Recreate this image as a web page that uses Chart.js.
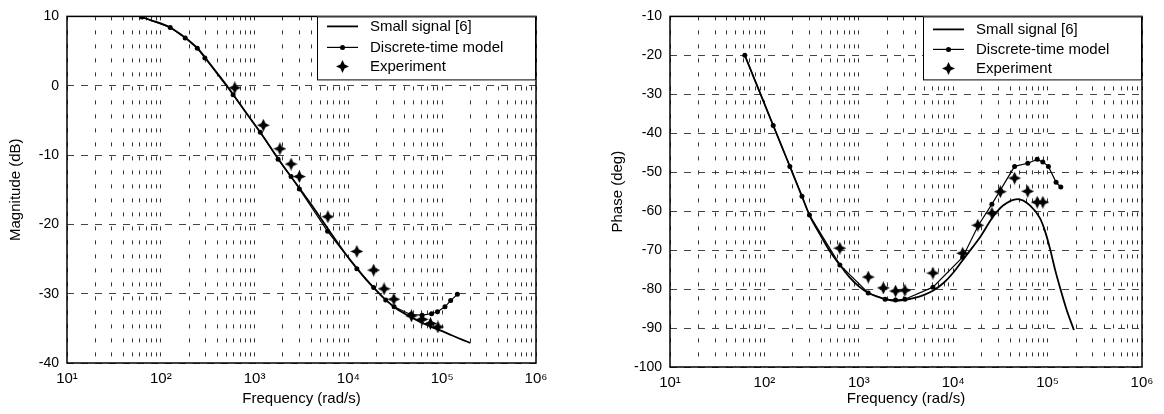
<!DOCTYPE html>
<html lang="en">
<head>
<meta charset="UTF-8">
<title>Bode plot</title>
<script src="https://cdn.jsdelivr.net/npm/chart.js/dist/chart.umd.min.js"></script>
<style>
  body { margin: 0; background: #fff; }
  .panel { position: absolute; top: 0; }
  #left { left: 0; }
  #right { left: 580px; }
</style>
</head>
<body>
<div class="panel" id="left"><canvas id="magChart" width="580" height="414"></canvas></div>
<div class="panel" id="right"><canvas id="phaseChart" width="584" height="414"></canvas></div>
<script>
// ---- magnitude (dB) ----
const ssMagFreq = [63, 80, 100, 126, 160, 200, 250, 320, 400, 500, 630, 800, 1000, 1260, 1600, 2000, 2500, 3200, 4000, 5000, 6300, 8000, 10000, 12600, 16000, 20000, 25000, 32000, 40000, 50000, 63000, 80000, 100000, 126000, 160000, 200000];
const ssMag = [9.9, 9.4, 9.0, 8.4, 7.5, 6.5, 5.3, 3.5, 1.8, 0.1, -1.8, -3.8, -5.6, -7.5, -9.6, -11.5, -13.3, -15.3, -17.1, -19.0, -21.0, -23.0, -24.8, -26.5, -28.2, -29.6, -30.9, -32.1, -32.9, -33.6, -34.3, -34.9, -35.4, -36.0, -36.6, -37.1];

const modelMagFreq = [63, 126, 182, 245, 295, 590, 1150, 1780, 2450, 3000, 6000, 12300, 18600, 25000, 30700, 46000, 61000, 77000, 89000, 107000, 123000, 145000];
const modelMag = [9.9, 8.4, 6.9, 5.4, 4.0, -1.3, -6.7, -10.6, -13.1, -14.9, -21.0, -26.4, -29.1, -30.9, -31.9, -33.0, -33.1, -32.9, -32.6, -31.9, -31.0, -30.1];

const expMagFreq = [615, 1240, 1860, 2450, 3000, 6050, 12300, 18600, 24000, 30500, 47000, 61000, 75000, 90000];
const expMag = [-0.3, -5.7, -9.1, -11.3, -13.1, -18.9, -23.9, -26.6, -29.3, -30.8, -33.2, -33.7, -34.3, -34.8];

// ---- phase (deg) ----
const ssPhFreq = [62, 80, 100, 124, 150, 186, 250, 300, 400, 500, 630, 800, 1000, 1260, 1600, 2000, 2500, 3000, 4000, 5000, 6100, 8000, 10000, 12600, 16000, 19000, 26300, 34000, 48000, 65000, 83000, 95000, 107000, 120000, 135000, 160000, 190000];
const ssPh = [-20, -26.6, -32.4, -38, -42.9, -48.5, -56.2, -61, -66.5, -70.5, -73.8, -77, -79.3, -81.0, -82.0, -82.7, -83.0, -82.8, -82.2, -81.4, -80.4, -78.3, -75.8, -72.6, -69.3, -66.9, -61.5, -58.5, -56.9, -58.5, -61.8, -65.5, -70, -75, -79.5, -85.5, -90.5];

const modelPhFreq = [62, 124, 186, 250, 300, 630, 1260, 1900, 2450, 3080, 6100, 12600, 18500, 25700, 31600, 44700, 61600, 77600, 89000, 102000, 123000, 138000];
const modelPh = [-20, -38, -48.5, -56.2, -61, -73.8, -81.0, -82.6, -82.8, -82.6, -79.5, -71.8, -63.6, -58.2, -54.6, -48.5, -47.7, -46.7, -47.4, -48.5, -52.6, -53.8];

const expPhFreq = [630, 1260, 1820, 2450, 3080, 6100, 12600, 18200, 25700, 31600, 44700, 61600, 77600, 89000];
const expPh = [-69.5, -76.9, -79.7, -80.5, -80.3, -75.9, -70.8, -63.6, -60.5, -55.0, -51.5, -54.9, -57.7, -57.7];

const seriesLabels = ['Small signal [6]', 'Discrete-time model', 'Experiment'];

const FONT = '"Liberation Sans", Arial, Helvetica, sans-serif';
Chart.defaults.font.family = FONT;
Chart.defaults.color = '#000';

// 4-point star marker used for the experiment points
const star = document.createElement('canvas');
star.width = 13; star.height = 13;
(function () {
  const c = star.getContext('2d');
  c.fillStyle = '#000';
  c.beginPath();
  c.moveTo(6.5, 0); c.lineTo(8.6, 4.4); c.lineTo(13, 6.5); c.lineTo(8.6, 8.6);
  c.lineTo(6.5, 13); c.lineTo(4.4, 8.6); c.lineTo(0, 6.5); c.lineTo(4.4, 4.4);
  c.closePath();
  c.fill();
})();

const pts = (xs, ys) => xs.map((x, i) => ({ x: x, y: ys[i] }));

const sup = { 1: '\u00b9', 2: '\u00b2', 3: '\u00b3', 4: '\u2074', 5: '\u2075', 6: '\u2076' };

// frame around the plot + boxed legend in the top right corner
const boxLegend = {
  id: 'boxLegend',
  afterDatasetsDraw(chart, args, opts) {
    const { ctx, chartArea: { left, top, right, bottom } } = chart;
    ctx.save();
    ctx.setLineDash([]);
    ctx.strokeStyle = '#000';
    ctx.lineWidth = 1.5;
    ctx.strokeRect(left, top, right - left, bottom - top);

    const w = 219, h = 64;
    const x0 = right - w, y0 = top;
    ctx.fillStyle = '#fff';
    ctx.fillRect(x0, y0, w, h);
    ctx.lineWidth = 1;
    ctx.strokeRect(x0 + 0.5, y0 + 0.5, w - 1, h - 1);

    ctx.font = '15px ' + FONT;
    ctx.textBaseline = 'middle';
    chart.data.datasets.forEach((ds, i) => {
      const y = y0 + opts.rows[i];
      const xa = x0 + 10, xb = x0 + 41, xm = (xa + xb) / 2;
      ctx.strokeStyle = '#000';
      ctx.fillStyle = '#000';
      if (ds.showLine !== false) {
        ctx.lineWidth = ds.borderWidth;
        ctx.beginPath();
        ctx.moveTo(xa, y);
        ctx.lineTo(xb, y);
        ctx.stroke();
      }
      if (ds.pointStyle === 'circle' && ds.pointRadius > 0) {
        ctx.beginPath();
        ctx.arc(xm, y, ds.pointRadius, 0, Math.PI * 2);
        ctx.fill();
      } else if (ds.pointStyle === star) {
        ctx.drawImage(star, xm - 6.5, y - 6.5);
      }
      ctx.fillText(ds.label, x0 + 53, y);
    });
    ctx.restore();
  }
};

function makeChart(id, cfg) {
  const decadeTicks = [];
  for (let e = 1; e < 6; e++) {
    for (let k = 1; k < 10; k++) decadeTicks.push({ value: k * Math.pow(10, e) });
  }
  decadeTicks.push({ value: 1e6 });

  return new Chart(document.getElementById(id), {
    type: 'line',
    data: {
      datasets: [
        {
          label: seriesLabels[0],
          data: pts(cfg.ss[0], cfg.ss[1]),
          borderColor: '#000',
          borderWidth: 1.8,
          pointRadius: 0,
          pointStyle: false,
          cubicInterpolationMode: 'monotone'
        },
        {
          label: seriesLabels[1],
          data: pts(cfg.model[0], cfg.model[1]),
          borderColor: '#000',
          backgroundColor: '#000',
          borderWidth: 1.2,
          pointStyle: 'circle',
          pointRadius: 2.5,
          pointBorderWidth: 0,
          pointBackgroundColor: '#000'
        },
        {
          label: seriesLabels[2],
          data: pts(cfg.exp[0], cfg.exp[1]),
          showLine: false,
          pointStyle: star,
          pointRadius: 5
        }
      ]
    },
    options: {
      responsive: false,
      animation: false,
      devicePixelRatio: 1,
      layout: { padding: { left: 0, right: cfg.padRight, top: cfg.padTop, bottom: 0 } },
      plugins: {
        legend: { display: false },
        tooltip: { enabled: false },
        boxLegend: { rows: cfg.rows }
      },
      scales: {
        x: {
          type: 'logarithmic',
          min: 10,
          max: 1e6,
          afterBuildTicks: (s) => { s.ticks = decadeTicks.map(t => ({ value: t.value })); },
          afterFit: (s) => { s.height = cfg.xHeight; },
          ticks: {
            autoSkip: false,
            maxRotation: 0,
            minRotation: 0,
            padding: 7,
            font: { size: 15 },
            callback: (v) => {
              const e = Math.log10(v);
              return Math.abs(e - Math.round(e)) < 1e-9 ? '10' + sup[Math.round(e)] : '';
            }
          },
          grid: { color: '#333', lineWidth: 1, drawTicks: false },
          border: { display: false, dash: [4, 10] },
          title: { display: true, text: 'Frequency (rad/s)', font: { size: 15 }, padding: { top: 0, bottom: 6 } }
        },
        y: {
          min: cfg.yMin,
          max: cfg.yMax,
          afterFit: (s) => { s.width = cfg.yWidth; },
          ticks: { stepSize: 10, padding: 8, font: { size: 14 } },
          grid: { color: '#444', lineWidth: 1, drawTicks: false },
          border: { display: false, dash: [7, 7] },
          title: { display: true, text: cfg.yTitle, font: { size: 15 }, padding: { top: cfg.titlePad, bottom: 0 } }
        }
      }
    },
    plugins: [boxLegend]
  });
}

makeChart('magChart', {
  ss: [ssMagFreq, ssMag],
  model: [modelMagFreq, modelMag],
  exp: [expMagFreq, expMag],
  yMin: -40, yMax: 10,
  yTitle: 'Magnitude (dB)',
  yWidth: 67, xHeight: 51, padRight: 44, padTop: 13, titlePad: 7,
  rows: [10, 31, 50]
});

makeChart('phaseChart', {
  ss: [ssPhFreq, ssPh],
  model: [modelPhFreq, modelPh],
  exp: [expPhFreq, expPh],
  yMin: -100, yMax: -10,
  yTitle: 'Phase (deg)',
  yWidth: 90, xHeight: 47, padRight: 22, padTop: 16, titlePad: 29,
  rows: [13, 33, 52]
});
</script>
</body>
</html>
